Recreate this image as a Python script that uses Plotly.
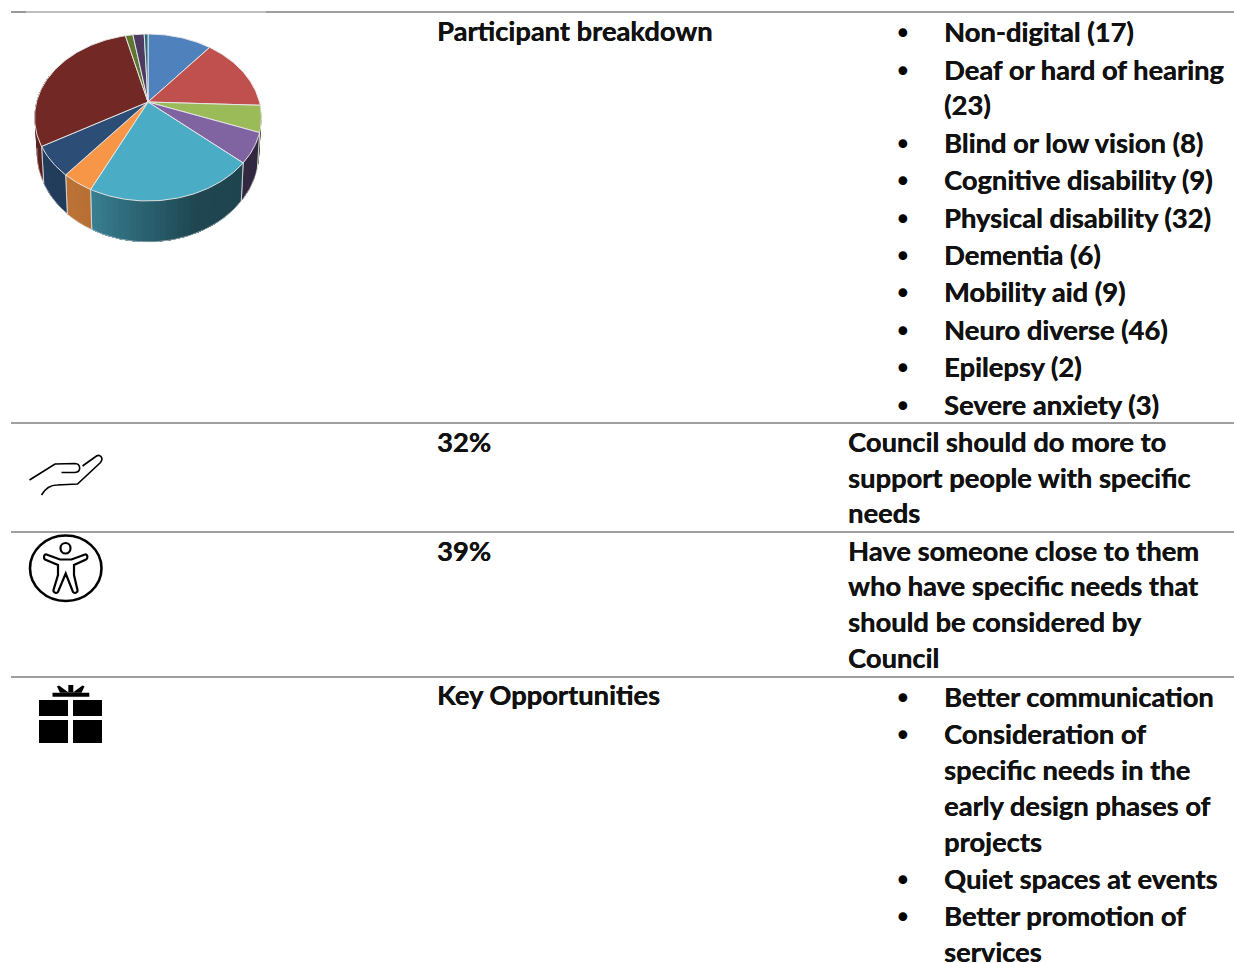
import numpy as np
import plotly.graph_objects as go

# Participant counts, in the order the slices run clockwise from twelve o'clock
slice_names = ["Non-digital", "Deaf or hard of hearing", "Blind or low vision",
               "Cognitive disability", "Physical disability", "Dementia",
               "Mobility aid", "Neuro diverse", "Epilepsy", "Severe anxiety", "Other"]
slice_values = [17, 23, 8, 9, 32, 6, 9, 46, 2, 3, 1]
slice_colors = ["#4F81BD", "#C0504D", "#9BBB59", "#8064A2", "#4BACC6", "#F79646",
                "#2C4D75", "#722926", "#5F7530", "#4D3B62", "#276A7C"]

heading = "Participant breakdown"
support_share = "32%"
support_lines = ["Council should do more to", "support people with specific", "needs"]
close_share = "39%"
close_lines = ["Have someone close to them", "who have specific needs that",
               "should be considered by", "Council"]
opportunities_heading = "Key Opportunities"
opportunities = [["Better communication"],
                 ["Consideration of", "specific needs in the", "early design phases of", "projects"],
                 ["Quiet spaces at events"],
                 ["Better promotion of", "services"]]

W, H = 1234, 963
FONT = "Lato"
FONT_SIZE = 27.3
TEXT = "#111111"
RULE = "#7f7f7f"

fig = go.Figure()

# Perspective disc: apex position, radii and tilt of the top face, depth of the wall
AX, AY = 148.0, 102.0
RX, RY, TILT, DEPTH = 111.5, 80.6, 0.1856, 33.4
TAPER = 0.98


def top_rim(deg):
    a = np.radians(deg)
    u, v = np.sin(a), np.cos(a)
    w = 1 + TILT * v
    return AX + RX * u / w, AY - RY * v / w


def low_rim(deg):
    a = np.radians(deg)
    u, v = np.sin(a), np.cos(a)
    w = 1 + TILT * v
    return AX + TAPER * RX * u / w, AY + (DEPTH - RY * v) / w


def shaded(hex_color, k):
    rgb = [int(hex_color[i:i + 2], 16) for i in (1, 3, 5)]
    return "rgb({},{},{})".format(*[round(c * k) for c in rgb])


def wall_light(deg):
    return float(np.interp(deg, [90, 160, 205, 240, 290], [0.38, 0.41, 0.74, 0.80, 0.88]))


def polygon(xs, ys, fill, line_color=None, line_width=0):
    fig.add_trace(go.Scatter(
        x=list(xs) + [xs[0]], y=list(ys) + [ys[0]], mode="lines", fill="toself",
        fillcolor=fill, line=dict(color=line_color or fill, width=line_width),
        hoverinfo="skip", showlegend=False))


total = sum(slice_values)
edges = np.cumsum([0] + slice_values) / total * 360.0

# Outer wall, split into narrow overlapping strips so the light falls off around the rim
for i, color in enumerate(slice_colors):
    start, end = max(edges[i], 90.0), min(edges[i + 1], 290.0)
    if end <= start:
        continue
    n = max(1, int((end - start) / 2.5))
    steps = np.linspace(start, end, n + 1)
    for a0, a1 in zip(steps[:-1], steps[1:]):
        arc = np.linspace(a0, end, max(4, int(end - a0) + 2))
        xt, yt = top_rim(arc)
        xb, yb = low_rim(arc[::-1])
        polygon(np.r_[xt, xb], np.r_[yt, yb], shaded(color, wall_light((a0 + a1) / 2)))
    # pale seam at the end of each wall section
    for a in (start, end):
        if 100 < a < 280:
            xt, yt = top_rim(a)
            xb, yb = low_rim(a)
            fig.add_trace(go.Scatter(x=[xt, xb], y=[yt, yb], mode="lines",
                                     line=dict(color="rgba(225,225,225,0.85)", width=1),
                                     hoverinfo="skip", showlegend=False))

# Pale line along the lower edge of the wall
arc = np.linspace(108, 262, 80)
xb, yb = low_rim(arc)
fig.add_trace(go.Scatter(x=xb, y=yb, mode="lines", line=dict(color="rgba(225,225,225,0.6)", width=1),
                         hoverinfo="skip", showlegend=False))

# Top face of the pie
for i, color in enumerate(slice_colors):
    arc = np.linspace(edges[i], edges[i + 1], max(3, int(edges[i + 1] - edges[i]) + 2))
    xt, yt = top_rim(arc)
    polygon(np.r_[AX, xt], np.r_[AY, yt], color, "rgba(232,232,232,0.95)", 1)


def put_text(x, y, text, size=FONT_SIZE):
    # a hair of shadow thickens the strokes to a heavier bold
    fig.add_annotation(x=x - 2.4, y=y - 1.2, text=text, xref="x", yref="y", showarrow=False,
                       xanchor="left", yanchor="middle", align="left",
                       font=dict(family=FONT, size=size, color=TEXT, weight="bold",
                                 shadow="0.35px 0 0 #111111"))


def put_bullet(y):
    fig.add_annotation(x=903, y=y, text="\u2022", xref="x", yref="y", showarrow=False,
                       xanchor="center", yanchor="middle",
                       font=dict(family="DejaVu Sans", size=30, color="#000000"))


# Column headings and shares
put_text(437, 32, heading)
put_text(437, 443, support_share)
put_text(437, 552, close_share)
put_text(437, 696, opportunities_heading)

# Participant list; the second entry breaks before its count
participant_rows = [33, 71, 144, 181, 219, 256, 293, 331, 368, 406]
for name, value, y in zip(slice_names[:10], slice_values[:10], participant_rows):
    put_bullet(y)
    if name.startswith("Deaf"):
        put_text(944, y, name)
        put_text(944, 106, f"({value})")
    else:
        put_text(944, y, f"{name} ({value})")

for line, y in zip(support_lines, [443, 479, 514]):
    put_text(848, y, line)
for line, y in zip(close_lines, [552, 587, 623, 659]):
    put_text(848, y, line)

opportunity_rows = [[698], [735, 771, 807, 843], [880], [917, 953]]
for lines, rows in zip(opportunities, opportunity_rows):
    put_bullet(rows[0])
    for line, y in zip(lines, rows):
        put_text(944, y, line)


def rule(x0, x1, y, width=1.3):
    return dict(type="line", x0=x0, x1=x1, y0=y, y1=y, xref="x", yref="y",
                line=dict(color=RULE, width=width))


def outline(path, width=1.6):
    return dict(type="path", path=path, xref="x", yref="y",
                line=dict(color="#000000", width=width), fillcolor="rgba(0,0,0,0)")


def solid(path):
    return dict(type="path", path=path, xref="x", yref="y",
                line=dict(color="#000000", width=0), fillcolor="#000000")


shapes = [
    # table rules
    rule(11, 26, 12, 1.6), rule(26, 266, 12, 1), rule(266, W, 12, 1.6),
    rule(11, W, 423), rule(11, W, 532), rule(11, W, 677),
    # open hand
    outline("M29.5,480 L55,464 L75,463.5 C81,464 81.5,472 75,472.5 L61.5,472.5"),
    outline("M82.5,466 L96.5,456 C100,454 104,458 100.5,462.5 L77.5,484 L57,485 C50,485 45,489 41.5,495"),
    # accessibility figure
    dict(type="circle", xref="x", yref="y", x0=30, x1=101.5, y0=535.5, y1=601,
         line=dict(color="#000000", width=2.6)),
    dict(type="circle", xref="x", yref="y", x0=60.5, x1=70.5, y0=543, y1=553.5,
         line=dict(color="#000000", width=2.2)),
    outline("M46.5,554.5 L60,559.5 L71.5,559.5 L85,554.5 C88,554 88,558.5 86,559.5 L74,565 L74,575 "
            "L77.5,590 C78,593 74,593.5 73,592 L65.7,573.5 L58,592 C57,593.5 53,593 53.5,590 "
            "L58,575 L58,565 L45,559.5 C43.5,558.5 43.5,554 46.5,554.5 Z", 2.2),
    # gift box
    solid("M39,700 H68 V716 H39 Z"), solid("M73,700 H102 V716 H73 Z"),
    solid("M39,720 H68 V743 H39 Z"), solid("M73,720 H102 V743 H73 Z"),
    solid("M52.5,692.7 H89.3 V696.8 H52.5 Z"),
    solid("M68.3,685 H73.3 V692.7 H68.3 Z"),
    solid("M57,686.5 L59,685.5 L69,692.7 L60,692.7 Z"),
    solid("M84.5,686.5 L82.5,685.5 L72.5,692.7 L81.5,692.7 Z"),
]

fig.update_layout(
    width=W, height=H, margin=dict(l=0, r=0, t=0, b=0),
    paper_bgcolor="#ffffff", plot_bgcolor="#ffffff",
    xaxis=dict(range=[0, W], visible=False, fixedrange=True),
    yaxis=dict(range=[H, 0], visible=False, fixedrange=True),
    showlegend=False, shapes=shapes,
)

fig.write_html("out.html", config={"displayModeBar": False})
